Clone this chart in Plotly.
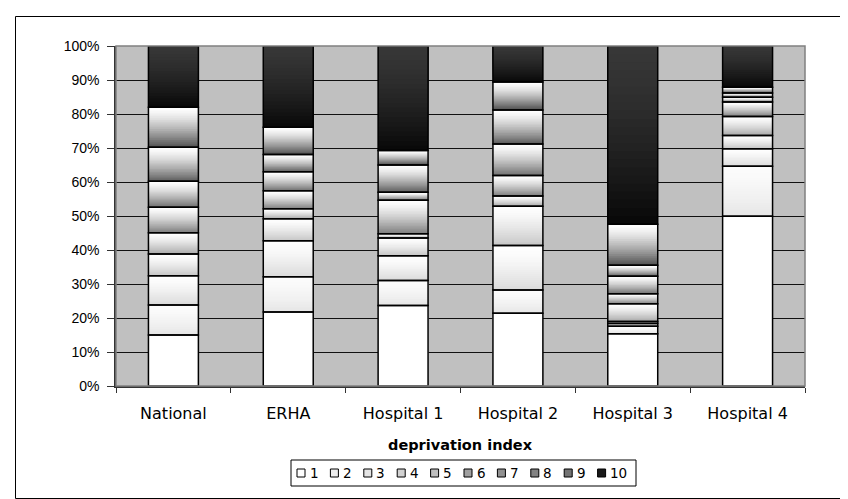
import plotly.graph_objects as go

# ---------------- data (percent of cases per deprivation decile) ----------------
categories = ["National", "ERHA", "Hospital 1", "Hospital 2", "Hospital 3", "Hospital 4"]
decile_names = ["1", "2", "3", "4", "5", "6", "7", "8", "9", "10"]
d1 = [15.0, 21.8, 23.7, 21.4, 15.4, 49.9]
d2 = [8.8, 10.3, 7.3, 6.8, 2.2, 14.7]
d3 = [8.6, 10.6, 7.3, 13.1, 0.8, 5.2]
d4 = [6.4, 6.5, 5.2, 11.6, 0.6, 3.9]
d5 = [6.3, 2.9, 1.3, 3.0, 5.2, 5.6]
d6 = [7.5, 5.3, 9.8, 6.0, 2.9, 4.2]
d7 = [7.6, 5.6, 2.4, 9.3, 5.2, 1.4]
d8 = [10.0, 5.1, 8.0, 10.0, 3.2, 1.3]
d9 = [11.8, 8.0, 4.3, 8.2, 12.1, 1.7]
d10 = [18.0, 23.9, 30.7, 10.6, 52.4, 12.1]
series = [d1, d2, d3, d4, d5, d6, d7, d8, d9, d10]

# ---------------- styling ----------------
W, H = 848, 499
L, R, T, B = 108, 51, 38, 121
FONT = "DejaVu Sans, Liberation Sans, Arial, sans-serif"
FONT_Y = "Liberation Sans, Arial, sans-serif"
# gradient (top grey level, bottom grey level) for each decile
grad = [(255, 255), (252, 230), (255, 218), (255, 198), (255, 168),
        (255, 125), (255, 110), (255, 92), (255, 78), (55, 8)]
legend_grey = [255, 238, 228, 210, 190, 160, 145, 130, 115, 25]
NSTEP = 22
BAR_W = 0.435

plot_w = W - L - R
plot_h = H - T - B


def px2x(px):
    return (px - L) / plot_w


def px2y(py):
    return (H - B - py) / plot_h


def grey(v):
    v = int(round(max(0, min(255, v))))
    return f"rgb({v},{v},{v})"


fig = go.Figure()

# cumulative bases
bases = []
run = [0.0] * len(categories)
for s in series:
    bases.append(list(run))
    run = [a + b for a, b in zip(run, s)]

# gradient fill: overlapping bars, each reaching the top of its segment
for si, s in enumerate(series):
    top_g, bot_g = grad[si]
    for k in range(NSTEP):
        p = (k + 0.5) / NSTEP  # position from bottom
        dark = (1 - p) ** 1.4
        g = top_g + (bot_g - top_g) * dark
        fig.add_trace(go.Bar(
            x=categories,
            y=[v * (1 - k / NSTEP) for v in s],
            base=[b + v * k / NSTEP for b, v in zip(bases[si], s)],
            width=BAR_W,
            marker=dict(color=grey(g), line=dict(width=0)),
            showlegend=False, hoverinfo="skip",
        ))

# segment outlines
for si, s in enumerate(series):
    fig.add_trace(go.Bar(
        x=categories, y=s, base=bases[si], width=BAR_W, name=decile_names[si],
        marker=dict(color="rgba(0,0,0,0)", line=dict(color="black", width=1.5)),
        showlegend=False, hoverinfo="skip",
    ))

shapes = []
annotations = []

# plot-area border
shapes.append(dict(type="rect", xref="paper", yref="paper", x0=0, x1=1, y0=0, y1=1,
                   line=dict(color="#808080", width=1.5), layer="above"))
# outer chart border
shapes.append(dict(type="rect", xref="paper", yref="paper",
                   x0=px2x(7.5), x1=px2x(838.5), y0=px2y(490.5), y1=px2y(8.5),
                   line=dict(color="black", width=1), layer="above"))

# axis title
annotations.append(dict(text="<b>deprivation index</b>", xref="paper", yref="paper",
                        x=0.5, y=px2y(437), xanchor="center", yanchor="middle",
                        showarrow=False, font=dict(family=FONT, size=14.5, color="black")))

# manual legend
lx0, lx1, ly0, ly1 = 283, 628, 452, 478
shapes.append(dict(type="rect", xref="paper", yref="paper",
                   x0=px2x(lx0), x1=px2x(lx1), y0=px2y(ly1), y1=px2y(ly0),
                   line=dict(color="black", width=1), fillcolor="white"))
item_step = 33.4
sq = 8
ly_mid = (ly0 + ly1) / 2
for i, name in enumerate(decile_names):
    sx = 289 + i * item_step
    shapes.append(dict(type="rect", xref="paper", yref="paper",
                       x0=px2x(sx), x1=px2x(sx + sq),
                       y0=px2y(ly_mid + sq / 2), y1=px2y(ly_mid - sq / 2),
                       line=dict(color="black", width=1), fillcolor=grey(legend_grey[i])))
    annotations.append(dict(text=name, xref="paper", yref="paper",
                            x=px2x(sx + sq + 2.5), y=px2y(ly_mid), xanchor="left", yanchor="middle",
                            showarrow=False, font=dict(family=FONT, size=13.5, color="black")))

fig.update_layout(
    width=W, height=H,
    margin=dict(l=L, r=R, t=T, b=B, pad=0),
    paper_bgcolor="white", plot_bgcolor="#c0c0c0",
    barmode="overlay", showlegend=False,
    font=dict(family=FONT, size=15, color="black"),
    shapes=shapes, annotations=annotations,
    xaxis=dict(type="category", categoryorder="array", categoryarray=categories,
               showgrid=False, showline=True, linecolor="#333333", linewidth=1.5,
               ticks="outside", tickson="boundaries", ticklen=5, tickcolor="#333333",
               ticklabelstandoff=12, tickfont=dict(family=FONT, size=16, color="black"),
               range=[-0.5, 5.5], fixedrange=True),
    yaxis=dict(range=[0, 100], dtick=10, tick0=0, ticksuffix="%",
               showgrid=True, gridcolor="#111111", gridwidth=1, zeroline=False,
               showline=True, linecolor="#333333", linewidth=1.5,
               ticks="outside", ticklen=7, tickcolor="#333333", ticklabelstandoff=5,
               tickfont=dict(family=FONT_Y, size=14, color="black"), fixedrange=True),
)

fig.write_html("out.html")
